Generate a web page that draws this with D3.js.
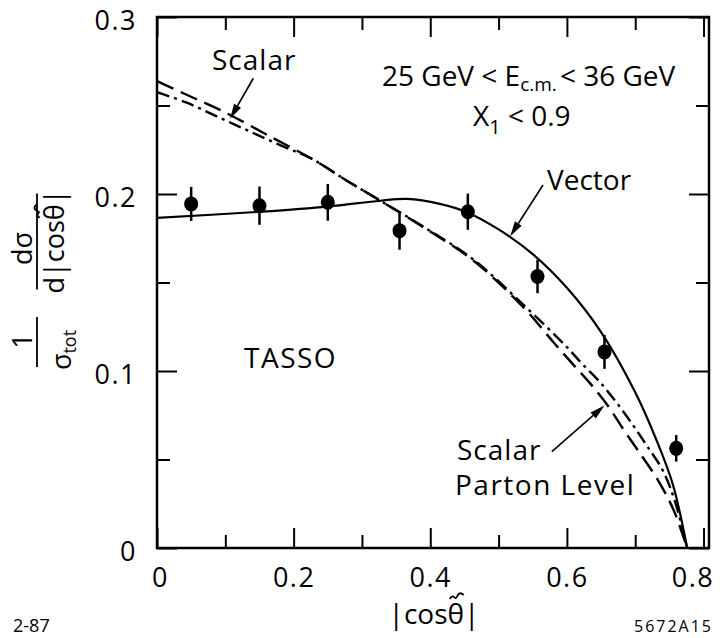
<!DOCTYPE html>
<html><head><meta charset="utf-8">
<script src="https://cdn.jsdelivr.net/npm/d3@7"></script>
<style>
html,body{margin:0;padding:0;background:#fff;}
svg text{font-family:"Open Sans","DejaVu Sans",sans-serif;fill:#000;}
</style></head><body>
<svg id="chart" width="720" height="638"></svg>
<script>
// ---- data ----
const pointX = [0.05, 0.15, 0.25, 0.355, 0.455, 0.557, 0.655, 0.76];
const pointY = [0.1944, 0.1934, 0.1953, 0.1793, 0.1900, 0.1534, 0.1108, 0.0563];
const pointErr = [0.0096, 0.0108, 0.0104, 0.0108, 0.0102, 0.0094, 0.0096, 0.0075];

const vectorX = [0, 0.152, 0.250, 0.327, 0.366, 0.414, 0.454, 0.50, 0.55, 0.60, 0.65, 0.70, 0.73, 0.755, 0.776];
const vectorY = [0.1865, 0.1900, 0.1929, 0.1962, 0.1972, 0.1944, 0.1896, 0.1800, 0.1660, 0.1470, 0.1220, 0.0880, 0.0620, 0.0360, 0];

const partonX = [0, 0.041, 0.095, 0.168, 0.2265, 0.278, 0.327, 0.390, 0.463, 0.536, 0.580, 0.610, 0.634, 0.661, 0.685, 0.707, 0.733, 0.756, 0.776];
const partonY = [0.2638, 0.2565, 0.2470, 0.2320, 0.2199, 0.2075, 0.1962, 0.1812, 0.1624, 0.1361, 0.1164, 0.1033, 0.0930, 0.0798, 0.0657, 0.0535, 0.0385, 0.0216, 0];

const scalarX = [0, 0.0435, 0.0923, 0.1337, 0.1826, 0.2265, 0.278, 0.327, 0.390, 0.463, 0.536, 0.5975, 0.622, 0.648, 0.671, 0.695, 0.717, 0.7405, 0.7575, 0.776];
const scalarY = [0.2575, 0.2516, 0.2430, 0.2357, 0.2272, 0.2199, 0.2075, 0.1962, 0.1815, 0.1630, 0.1375, 0.1145, 0.1042, 0.0939, 0.0830, 0.0704, 0.0578, 0.0437, 0.0272, 0];

const xTicksMajor = [0, 0.2, 0.4, 0.6, 0.8];
const xTicksMinor = [0.1, 0.3, 0.5, 0.7];
const yTicksMajor = [0, 0.1, 0.2, 0.3];
const yTicksMinor = [0.05, 0.15, 0.25];
const xTickLabels = ["0", "0.2", "0.4", "0.6", "0.8"];
const yTickLabels = ["0", "0.1", "0.2", "0.3"];

// annotation arrows: [tailX, tailY, tipX, tipY] in data units
const arrowScalar = [0.141, 0.2654, 0.107, 0.2425];
const arrowVector = [0.565, 0.2051, 0.517, 0.1762];
const arrowParton = [0.578, 0.0544, 0.655, 0.0805];

// ---- drawing ----
const svg = d3.select("#chart");
const x = d3.scaleLinear().domain([0, 0.808]).range([157, 709]);
const y = d3.scaleLinear().domain([0, 0.3]).range([548, 17]);

const MAJ = 20, MIN = 13;
function tickAxis(gen, vals, size, tr) {
  const g = svg.append("g").attr("transform", tr)
    .call(gen.tickValues(vals).tickSize(size).tickFormat(""));
  g.select(".domain").remove();
  g.selectAll(".tick line").attr("stroke", "#000").attr("stroke-width", 2);
}
tickAxis(d3.axisBottom(x), xTicksMajor, -MAJ, "translate(0,548)");
tickAxis(d3.axisBottom(x), xTicksMinor, -MIN, "translate(0,548)");
tickAxis(d3.axisTop(x), xTicksMajor, -MAJ, "translate(0,17)");
tickAxis(d3.axisTop(x), xTicksMinor, -MIN, "translate(0,17)");
tickAxis(d3.axisLeft(y), yTicksMajor, -MAJ, "translate(157,0)");
tickAxis(d3.axisLeft(y), yTicksMinor, -MIN, "translate(157,0)");
tickAxis(d3.axisRight(y), yTicksMajor, -MAJ, "translate(709,0)");
tickAxis(d3.axisRight(y), yTicksMinor, -MIN, "translate(709,0)");

// frame
svg.append("rect").attr("x", x(0)).attr("y", y(0.3))
  .attr("width", x.range()[1] - x(0)).attr("height", y(0) - y(0.3))
  .attr("fill", "none").attr("stroke", "#000").attr("stroke-width", 2.5);

// tick labels
const xl = svg.append("g").attr("transform", "translate(0,548)")
  .call(d3.axisBottom(x).tickValues(xTicksMajor).tickSize(0).tickPadding(20)
    .tickFormat((d, i) => xTickLabels[i]));
xl.select(".domain").remove();
xl.selectAll("text").attr("font-size", 27).attr("font-family", null).attr("letter-spacing", 1.5)
  .attr("dx", (d, i) => i === 0 ? 3 : (i === xTickLabels.length - 1 ? -11 : 0));
const yl = svg.append("g").attr("transform", "translate(157,0)")
  .call(d3.axisLeft(y).tickValues(yTicksMajor).tickSize(0).tickPadding(20)
    .tickFormat((d, i) => yTickLabels[i]));
yl.select(".domain").remove();
yl.selectAll("text").attr("font-size", 27).attr("font-family", null).attr("letter-spacing", 1.5).attr("dy", "0.45em");

// curves
const line = d3.line().x(d => x(d[0])).y(d => y(d[1])).curve(d3.curveCatmullRom.alpha(0.5));
svg.append("path").datum(vectorX.map((v, i) => [v, vectorY[i]])).attr("d", line)
  .attr("fill", "none").attr("stroke", "#000").attr("stroke-width", 2.2);
svg.append("path").datum(partonX.map((v, i) => [v, partonY[i]])).attr("d", line)
  .attr("fill", "none").attr("stroke", "#000").attr("stroke-width", 2.4)
  .attr("stroke-dasharray", "18,8");
svg.append("path").datum(scalarX.map((v, i) => [v, scalarY[i]])).attr("d", line)
  .attr("fill", "none").attr("stroke", "#000").attr("stroke-width", 2.4)
  .attr("stroke-dasharray", "13,5,3,5");

// data points with error bars
const pts = pointX.map((v, i) => ({x: v, y: pointY[i], e: pointErr[i]}));
svg.append("g").selectAll("line").data(pts).join("line")
  .attr("x1", d => x(d.x)).attr("x2", d => x(d.x))
  .attr("y1", d => y(d.y - d.e)).attr("y2", d => y(d.y + d.e))
  .attr("stroke", "#000").attr("stroke-width", 2.5);
svg.append("g").selectAll("ellipse").data(pts).join("ellipse")
  .attr("cx", d => x(d.x)).attr("cy", d => y(d.y)).attr("rx", 7).attr("ry", 7.5)
  .attr("fill", "#000");

// arrows
function arrow(a) {
  const x1 = x(a[0]), y1 = y(a[1]), x2 = x(a[2]), y2 = y(a[3]);
  const ang = Math.atan2(y2 - y1, x2 - x1), L = 15, W = 4;
  const bx = x2 - L * Math.cos(ang), by = y2 - L * Math.sin(ang);
  svg.append("line").attr("x1", x1).attr("y1", y1).attr("x2", bx).attr("y2", by)
    .attr("stroke", "#000").attr("stroke-width", 1.6);
  const px = -Math.sin(ang) * W, py = Math.cos(ang) * W;
  svg.append("path").attr("d", `M${x2},${y2}L${bx + px},${by + py}L${bx - px},${by - py}Z`)
    .attr("fill", "#000");
}
arrow(arrowScalar); arrow(arrowVector); arrow(arrowParton);

// annotations
const T = 28;
svg.append("text").attr("x", 212).attr("y", 70).attr("font-size", T).attr("letter-spacing", 1).text("Scalar");
svg.append("text").attr("x", 547).attr("y", 190).attr("font-size", T).text("Vector");
svg.append("text").attr("x", 457).attr("y", 460).attr("font-size", T).attr("letter-spacing", 1).text("Scalar");
svg.append("text").attr("x", 455).attr("y", 495).attr("font-size", T).attr("letter-spacing", 1.5).text("Parton Level");
svg.append("text").attr("x", 244).attr("y", 368).attr("font-size", T).attr("letter-spacing", 1.5).text("TASSO");

const e1 = svg.append("text").attr("x", 382).attr("y", 86).attr("font-size", T);
e1.append("tspan").text("25 GeV < E");
e1.append("tspan").attr("font-size", 19).attr("dy", 5).text("c.m.");
e1.append("tspan").attr("dy", -5).attr("dx", 3).text("< 36 GeV");
const e2 = svg.append("text").attr("x", 473).attr("y", 126).attr("font-size", T);
e2.append("tspan").text("X");
e2.append("tspan").attr("font-size", 20).attr("dy", 8).text("1");
e2.append("tspan").attr("dy", -8).text(" < 0.9");

// tilde drawn as a small wave path
function tilde(parent, cx, cy, w) {
  const h = w * 0.28;
  parent.append("path")
    .attr("d", `M${cx - w / 2},${cy + h / 2} C${cx - w / 4},${cy - h * 1.2} ${cx - w / 8},${cy + h} ${cx},${cy} S${cx + w / 4},${cy - h * 1.3} ${cx + w / 2},${cy - h / 2}`)
    .attr("fill", "none").attr("stroke", "#000").attr("stroke-width", 1.8);
}

// x axis title
const xt = svg.append("text").attr("x", 434).attr("y", 624).attr("font-size", 28)
  .attr("text-anchor", "middle").text("|cosθ|");
{
  const r = xt.node().getExtentOfChar(4);
  tilde(svg, r.x + r.width / 2 + 1, r.y + 3, 14);
}

// y axis title (rotated)
const yg1 = svg.append("g").attr("transform", "translate(37,241.5) rotate(-90)");
yg1.append("line").attr("x1", -48).attr("x2", 48).attr("stroke", "#000").attr("stroke-width", 1.8);
yg1.append("text").attr("x", -7).attr("y", -5).attr("text-anchor", "middle").attr("font-size", 27).text("dσ");
const den = yg1.append("text").attr("x", 0).attr("y", 27).attr("text-anchor", "middle").attr("font-size", 27).text("d|cosθ|");
{
  const r = den.node().getExtentOfChar(5);
  tilde(yg1, r.x + r.width / 2 + 1, r.y + 3, 13);
}
const yg2 = svg.append("g").attr("transform", "translate(37,342) rotate(-90)");
yg2.append("line").attr("x1", -25).attr("x2", 25).attr("stroke", "#000").attr("stroke-width", 1.8);
yg2.append("text").attr("x", 1).attr("y", -5).attr("text-anchor", "middle").attr("font-size", 27).text("1");
const st = yg2.append("text").attr("x", -8).attr("y", 34).attr("text-anchor", "middle").attr("font-size", 27);
st.append("tspan").text("σ");
st.append("tspan").attr("font-size", 18).attr("dy", 5).text("tot");

// corner labels
svg.append("text").attr("x", 13).attr("y", 632).attr("font-size", 18).text("2-87");
svg.append("text").attr("x", 713).attr("y", 632).attr("font-size", 16).attr("letter-spacing", 2)
  .attr("text-anchor", "end").text("5672A15");
</script>
</body></html>
